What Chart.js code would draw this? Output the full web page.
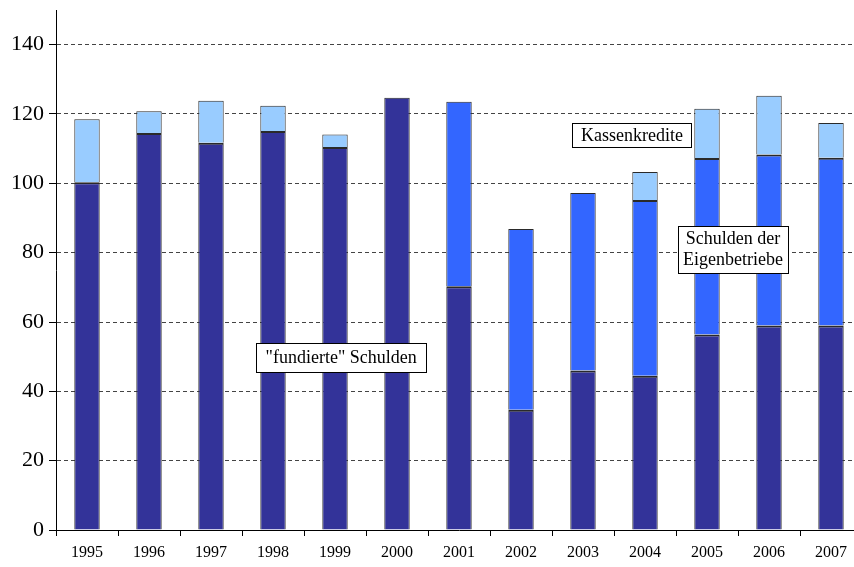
<!DOCTYPE html>
<html>
<head>
<meta charset="utf-8">
<script src="https://cdn.jsdelivr.net/npm/chart.js@4.4.0/dist/chart.umd.min.js"></script>
<style>
  html, body { margin: 0; padding: 0; background: #fff; overflow: hidden; width: 854px; height: 567px; }
  #wrap { position: absolute; left: 0; top: 0; width: 862px; height: 567px; }
</style>
</head>
<body>
<div id="wrap"><canvas id="c" width="862" height="567"></canvas></div>
<script>
const years = ['1995','1996','1997','1998','1999','2000','2001','2002','2003','2004','2005','2006','2007'];
const fundierte = [100.3, 114.5, 111.7, 115.1, 110.5, 124.7, 70.3, 34.7, 46.0, 44.5, 56.4, 59.0, 59.0];
const eigenbetriebe = [null, null, null, null, null, null, 53.2, 52.1, 51.2, 50.7, 50.9, 49.3, 48.4];
const kassenkredite = [18.2, 6.3, 12.1, 7.3, 3.6, null, null, null, null, 8.1, 14.2, 17.0, 10.0];
const yTicks = [0, 20, 40, 60, 80, 100, 120, 140];
const yMax = 150;

const annotations = [
  { lines: ['Kassenkredite'], xIndex: 8.79, yValue: 113.8, w: 119, h: 24 },
  { lines: ['Schulden der', 'Eigenbetriebe'], xIndex: 10.42, yValue: 81.0, w: 110, h: 47 },
  { lines: ['"fundierte" Schulden'], xIndex: 4.1, yValue: 49.8, w: 170, h: 29 }
];

const serif = '"Liberation Serif", "Times New Roman", serif';
const seriesList = [fundierte, eigenbetriebe, kassenkredite];

function borderFor(ctx) {
  const di = ctx.datasetIndex, i = ctx.dataIndex;
  let isTop = true;
  for (let k = di + 1; k < seriesList.length; k++) {
    if (seriesList[k][i] != null) { isTop = false; break; }
  }
  return { top: isTop ? 1 : 2, left: 1, right: 1, bottom: 0 };
}
function colorFor(ctx) {
  return '#2a2a2a';
}

const boxPlugin = {
  id: 'boxes',
  afterDatasetsDraw(chart) {
    const ctx = chart.ctx;
    const xs = chart.scales.x, ys = chart.scales.y;
    ctx.save();
    annotations.forEach(a => {
      const cx = xs.getPixelForValue(a.xIndex);
      const cy = ys.getPixelForValue(a.yValue);
      const x0 = Math.round(cx - a.w / 2) + 0.5, y0 = Math.round(cy - a.h / 2) + 0.5;
      ctx.fillStyle = '#fff';
      ctx.fillRect(x0, y0, a.w, a.h);
      ctx.strokeStyle = '#000';
      ctx.lineWidth = 1;
      ctx.strokeRect(x0, y0, a.w, a.h);
      ctx.fillStyle = '#000';
      ctx.font = '18px ' + serif;
      ctx.textAlign = 'center';
      ctx.textBaseline = 'middle';
      const lh = 21;
      const start = cy - (a.lines.length - 1) * lh / 2;
      a.lines.forEach((t, i) => ctx.fillText(t, cx, start + i * lh + 1));
    });
    ctx.restore();
  }
};

new Chart(document.getElementById('c'), {
  type: 'bar',
  data: {
    labels: years,
    datasets: [
      { label: '"fundierte" Schulden', data: fundierte, backgroundColor: '#333399', borderColor: colorFor, borderWidth: borderFor, borderSkipped: false },
      { label: 'Schulden der Eigenbetriebe', data: eigenbetriebe, backgroundColor: '#3366FF', borderColor: colorFor, borderWidth: borderFor, borderSkipped: false },
      { label: 'Kassenkredite', data: kassenkredite, backgroundColor: '#99CCFF', borderColor: colorFor, borderWidth: borderFor, borderSkipped: false }
    ]
  },
  options: {
    responsive: false,
    animation: false,
    layout: { padding: { top: 10, right: 0, left: 0, bottom: 0 } },
    plugins: { legend: { display: false }, tooltip: { enabled: false } },
    datasets: { bar: { categoryPercentage: 1, barPercentage: 0.41 } },
    scales: {
      x: {
        stacked: true,
        offset: true,
        grid: { display: true, drawOnChartArea: false, drawTicks: true, tickLength: 6, color: '#000', offset: true },
        border: { display: true, color: '#000', width: 1 },
        ticks: { color: '#000', font: { family: serif, size: 16 }, padding: 7, maxRotation: 0, autoSkip: false },
        afterFit(s) { s.height = 37; s.paddingLeft = 0; s.paddingRight = 0; }
      },
      y: {
        stacked: true,
        min: 0,
        max: yMax,
        afterBuildTicks(s) { s.ticks = yTicks.map(v => ({ value: v })); },
        grid: {
          color: ctx => (ctx.tick && ctx.tick.value === 0) ? 'rgba(0,0,0,0)' : '#444',
          tickColor: '#000',
          tickLength: 7,
          lineWidth: 1
        },
        border: { display: true, color: '#000', width: 1, dash: [4, 3] },
        ticks: { color: '#000', font: { family: serif, size: 22 }, padding: 5 },
        afterFit(s) { s.width = 56; s.paddingTop = 0; s.paddingBottom = 0; }
      }
    }
  },
  plugins: [boxPlugin]
});
</script>
</body>
</html>
